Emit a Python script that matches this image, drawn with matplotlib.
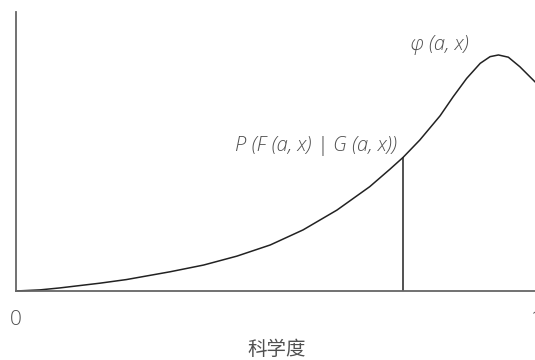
import matplotlib.pyplot as plt
import numpy as np

# curve (x in 0..1, y in 0..1 of axis height)
curve_x = [0.0, 0.046, 0.084, 0.161, 0.212, 0.296, 0.360, 0.424, 0.488, 0.551,
           0.616, 0.679, 0.718, 0.743, 0.775, 0.814, 0.839, 0.865, 0.891, 0.910,
           0.926, 0.945, 0.967, 0.996]
curve_y = [0.0, 0.004, 0.011, 0.028, 0.041, 0.069, 0.093, 0.125, 0.165, 0.219,
           0.290, 0.374, 0.437, 0.479, 0.541, 0.628, 0.696, 0.762, 0.816, 0.840,
           0.846, 0.838, 0.804, 0.750]
cut_x = 0.743
tick_pos = [0, 1]
tick_labels = ["0", "1"]

text_col = "#505050"
line_col = "#222222"

fig = plt.figure(figsize=(5.35, 3.6), dpi=100)
ax = fig.add_axes([16 / 535, 69 / 360, 521 / 535, 279 / 360])
ax.set_xlim(0, 1)
ax.set_ylim(0, 1)

ax.plot(curve_x, curve_y, color=line_col, lw=1.1, clip_on=False)
cut_y = np.interp(cut_x, curve_x, curve_y)
ax.vlines(cut_x, 0, cut_y, color=line_col, lw=1.1)

for s in ["top", "right"]:
    ax.spines[s].set_visible(False)
for s in ["left", "bottom"]:
    ax.spines[s].set_color("#666666")
    ax.spines[s].set_linewidth(1.3)

ax.set_yticks([])
ax.set_xticks(tick_pos)
ax.set_xticklabels(tick_labels, family="Open Sans", fontweight="light",
                   fontsize=15, color=text_col)
ax.tick_params(axis="x", length=0, pad=14)

ax.set_xlabel("科学度", family=["Noto Sans CJK SC", "DejaVu Sans"], fontsize=14,
              color=text_col, labelpad=6)

ax.text(0.814, 0.882, "φ (a, x)", family="Open Sans", style="italic",
        fontweight="light", fontsize=14.5, color=text_col, ha="center", va="center")
ax.text(0.575, 0.520, "P (F (a, x) | G (a, x))", family="Open Sans", style="italic",
        fontweight="light", fontsize=14.5, color=text_col, ha="center", va="center")

fig.savefig("out.png", dpi=100)
